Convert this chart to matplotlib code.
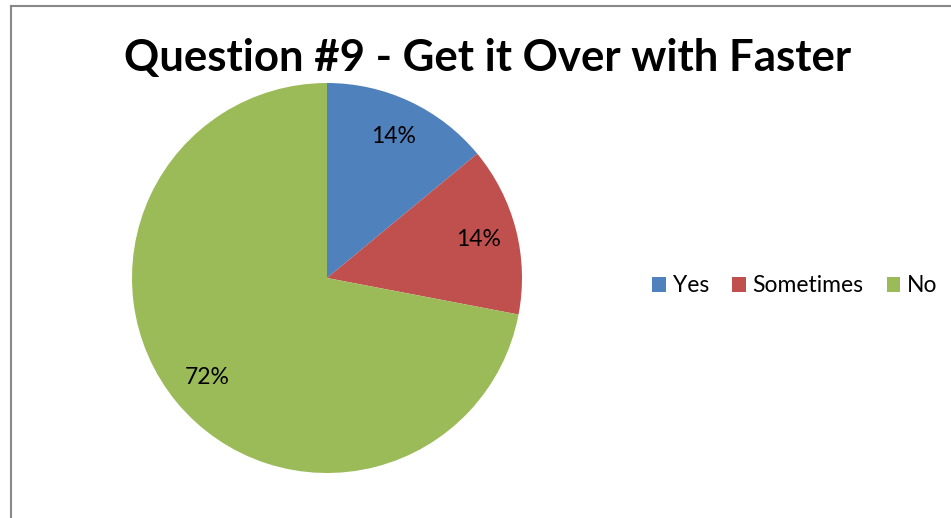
import matplotlib.pyplot as plt
from matplotlib.lines import Line2D

labels = ['Yes', 'Sometimes', 'No']
shares = [14, 14, 72]
colors = ['#4F81BD', '#C0504D', '#9BBB59']
title = 'Question #9 - Get it Over with Faster'

plt.rcParams['font.family'] = ['Lato', 'DejaVu Sans']

W, H = 951, 518
fig = plt.figure(figsize=(W / 100, H / 100), dpi=100)

# pie sits in a square axes, centre ~ (327, 278) px, radius 195 px
ax = fig.add_axes([132 / W, (H - 473) / H, 390 / W, 390 / H])
wedges, texts, autotexts = ax.pie(shares, colors=colors, startangle=90,
                                  counterclock=False, radius=1,
                                  autopct=lambda p: '%.0f%%' % p,
                                  pctdistance=0.8,
                                  wedgeprops={'linewidth': 0})
for t in autotexts:
    t.set_fontsize(16.5)
    t.set_color('black')
ax.set_xlim(-1, 1)
ax.set_ylim(-1, 1)
ax.set_aspect('equal')

fig.text(488 / W, 1 - 58 / H, title, ha='center', va='center',
         fontsize=31.5, fontweight='bold')

fig.legend(wedges, labels, loc='center', bbox_to_anchor=(795 / W, 1 - 286 / H),
           ncol=3, frameon=False, fontsize=16.5, handlelength=0.6,
           handleheight=0.6, handletextpad=0.3, columnspacing=1.0)

# chart area border (left and top edges visible)
border = dict(color='#888888', linewidth=1.5)
fig.add_artist(Line2D([10.5 / W, 10.5 / W], [0, 1 - 6 / H], **border))
fig.add_artist(Line2D([10.5 / W, 1], [1 - 6 / H, 1 - 6 / H], **border))

fig.savefig('out.png', dpi=100)
